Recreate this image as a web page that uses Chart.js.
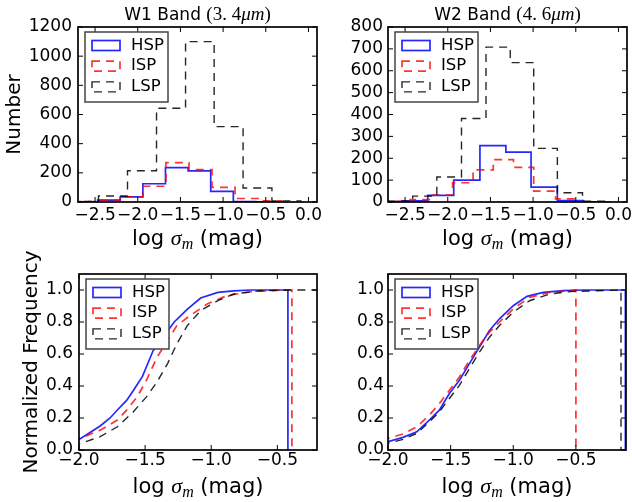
<!DOCTYPE html>
<html>
<head>
<meta charset="utf-8">
<script src="https://cdn.jsdelivr.net/npm/chart.js@4.4.0/dist/chart.umd.min.js"></script>
<style>
  html, body { margin: 0; padding: 0; background: #fff; }
  #wrap { position: relative; width: 632px; height: 502px; overflow: hidden; }
  canvas { position: absolute; left: 0; top: 0; }
</style>
</head>
<body>
<div id="wrap">
  <canvas id="w1hist" width="632" height="502"></canvas>
  <canvas id="w2hist" width="632" height="502"></canvas>
  <canvas id="w1cdf" width="632" height="502"></canvas>
  <canvas id="w2cdf" width="632" height="502"></canvas>
</div>
<script>
// ---- histogram bins (edges) and counts ----
const w1HspEdges = [-2.47, -2.205, -1.94, -1.675, -1.41, -1.145, -0.88, -0.615, -0.35];
const w1HspCounts = [13, 35, 125, 236, 214, 73, 2, 1];
const w1IspEdges = [-2.75, -2.48, -2.21, -1.94, -1.67, -1.40, -1.13, -0.86, -0.59, -0.32];
const w1IspCounts = [3, 12, 36, 108, 270, 222, 100, 24, 8];
const w1LspEdges = [-2.80, -2.46, -2.12, -1.78, -1.44, -1.105, -0.766, -0.428, -0.089];
const w1LspCounts = [4, 41, 214, 643, 1100, 517, 96, 8];

const w2HspEdges = [-2.84, -2.537, -2.234, -1.93, -1.623, -1.319, -1.024, -0.716, -0.409, -0.105];
const w2HspCounts = [2, 5, 30, 100, 258, 228, 68, 6, 1];
const w2IspEdges = [-2.93, -2.69, -2.44, -2.19, -1.943, -1.703, -1.467, -1.23, -0.993, -0.737, -0.5];
const w2IspCounts = [1, 3, 11, 32, 88, 147, 194, 158, 50, 14];
const w2LspEdges = [-2.70, -2.411, -2.128, -1.839, -1.552, -1.268, -0.993, -0.716, -0.421, -0.125];
const w2LspCounts = [4, 27, 114, 382, 708, 637, 245, 42, 4];

// ---- cumulative distributions (x = log sigma, y = fraction) ----
const w1HspCdfX = [-2.05, -1.99, -1.84, -1.765, -1.71, -1.64, -1.59, -1.52, -1.49, -1.44, -1.36, -1.28, -1.18, -1.08, -0.95, -0.83, -0.70, -0.42, -0.42];
const w1HspCdfY = [0.06, 0.07, 0.15, 0.20, 0.25, 0.31, 0.37, 0.46, 0.52, 0.62, 0.71, 0.80, 0.88, 0.95, 0.985, 0.995, 1.0, 1.0, 0];
const w1IspCdfX = [-2.05, -1.99, -1.84, -1.71, -1.64, -1.56, -1.49, -1.41, -1.33, -1.26, -1.16, -1.03, -0.88, -0.70, -0.45, -0.39, -0.39];
const w1IspCdfY = [0.06, 0.073, 0.124, 0.187, 0.249, 0.332, 0.436, 0.58, 0.684, 0.778, 0.84, 0.913, 0.965, 0.99, 1.0, 1.0, 0];
const w1LspCdfX = [-2.05, -1.97, -1.84, -1.71, -1.59, -1.49, -1.41, -1.33, -1.26, -1.18, -1.08, -0.95, -0.83, -0.63, -0.40, -0.10];
const w1LspCdfY = [0.03, 0.046, 0.083, 0.145, 0.238, 0.332, 0.425, 0.54, 0.664, 0.778, 0.871, 0.933, 0.975, 0.995, 1.0, 1.0];

const w2HspCdfX = [-2.05, -2.0, -1.88, -1.77, -1.67, -1.59, -1.51, -1.43, -1.35, -1.27, -1.19, -1.11, -1.0, -0.89, -0.76, -0.60, -0.44, -0.105, -0.105];
const w2HspCdfY = [0.045, 0.052, 0.079, 0.114, 0.187, 0.249, 0.353, 0.436, 0.54, 0.643, 0.747, 0.82, 0.902, 0.96, 0.985, 0.996, 1.0, 1.0, 0];
const w2IspCdfX = [-2.05, -2.0, -1.88, -1.77, -1.67, -1.59, -1.51, -1.43, -1.35, -1.27, -1.19, -1.11, -1.0, -0.87, -0.71, -0.5, -0.5];
const w2IspCdfY = [0.065, 0.073, 0.1, 0.145, 0.218, 0.29, 0.373, 0.456, 0.56, 0.653, 0.736, 0.8, 0.882, 0.954, 0.985, 1.0, 0];
const w2LspCdfX = [-2.05, -2.0, -1.88, -1.77, -1.67, -1.59, -1.51, -1.43, -1.35, -1.27, -1.19, -1.11, -1.0, -0.87, -0.71, -0.55, -0.14, -0.14];
const w2LspCdfY = [0.035, 0.042, 0.066, 0.104, 0.176, 0.238, 0.322, 0.404, 0.508, 0.612, 0.705, 0.778, 0.861, 0.933, 0.975, 0.99, 1.0, 0];

// ---- ticks ----
const histXTicks = [-2.5, -2.0, -1.5, -1.0, -0.5, 0.0];
const w1YTicks = [0, 200, 400, 600, 800, 1000, 1200];
const w2YTicks = [0, 100, 200, 300, 400, 500, 600, 700, 800];
const cdfXTicks = [-2.0, -1.5, -1.0, -0.5];
const cdfYTicks = [0, 0.2, 0.4, 0.6, 0.8, 1.0];
const classes = ['HSP', 'ISP', 'LSP'];

const W = 632, H = 502;
const SANS = '"DejaVu Sans", sans-serif';
const SERIF = '"Liberation Serif", serif';

const styles = {
  HSP: { borderColor: 'rgba(0,0,255,0.85)', borderWidth: 1.7, borderDash: [], order: 2 },
  ISP: { borderColor: 'rgba(255,0,0,0.8)', borderWidth: 1.7, borderDash: [8, 6], order: 1 },
  LSP: { borderColor: 'rgba(0,0,0,0.85)', borderWidth: 1.4, borderDash: [8, 6], order: 0 }
};

function stepPoints(edges, counts) {
  const n = edges.length - 1;
  const pts = [{ x: edges[0], y: 0 }];
  counts.forEach((c, i) => pts.push({ x: edges[i], y: c }));
  pts.push({ x: edges[n], y: counts[counts.length - 1] });
  pts.push({ x: edges[n], y: 0 });
  return pts;
}

function linePoints(xs, ys) {
  return xs.map((x, i) => ({ x: x, y: ys[i] }));
}

function makeSet(name, pts, stepped) {
  return Object.assign({
    label: name, data: pts, stepped: stepped ? 'before' : false,
    pointRadius: 0, fill: false, backgroundColor: 'transparent', tension: 0
  }, styles[name]);
}

function fmt1(v) {
  return (v < 0 ? '\u2212' : '') + Math.abs(v).toFixed(1);
}

// text runs with mixed fonts, centred on cx
function drawRuns(ctx, runs, cx, y) {
  let total = 0;
  runs.forEach(r => { ctx.font = r.font; total += ctx.measureText(r.t).width; });
  let x = cx - total / 2;
  ctx.textAlign = 'left';
  ctx.textBaseline = 'alphabetic';
  runs.forEach(r => {
    ctx.font = r.font;
    ctx.fillText(r.t, x, y + (r.dy || 0));
    x += ctx.measureText(r.t).width;
  });
}

const xLabelRuns = [
  { t: 'log ', font: '21px ' + SANS },
  { t: '\u03c3', font: 'italic 22px ' + SERIF },
  { t: 'm', font: 'italic 16px ' + SERIF, dy: 4 },
  { t: ' (mag)', font: '21px ' + SANS }
];

function titleRuns(band, wl) {
  return [
    { t: band + ' Band ', font: '17px ' + SANS },
    { t: '(' + wl.replace('.', '. '), font: '19px ' + SERIF },
    { t: '\u03bcm', font: 'italic 19px ' + SERIF },
    { t: ')', font: '19px ' + SERIF }
  ];
}

const decor = {
  id: 'decor',
  afterDatasetsDraw(chart, args, o) {
    const ctx = chart.ctx, a = chart.chartArea, sx = chart.scales.x, sy = chart.scales.y;
    ctx.save();
    ctx.setLineDash([]);
    ctx.strokeStyle = '#000';
    ctx.lineWidth = 1;
    ctx.beginPath();
    sx.ticks.forEach(t => {
      const p = sx.getPixelForValue(t.value);
      ctx.moveTo(p, a.bottom); ctx.lineTo(p, a.bottom - 5);
      ctx.moveTo(p, a.top); ctx.lineTo(p, a.top + 5);
    });
    sy.ticks.forEach(t => {
      const p = sy.getPixelForValue(t.value);
      ctx.moveTo(a.left, p); ctx.lineTo(a.left + 5, p);
      ctx.moveTo(a.right, p); ctx.lineTo(a.right - 5, p);
    });
    ctx.stroke();
    ctx.lineWidth = 1.7;
    ctx.strokeRect(a.left, a.top, a.right - a.left, a.bottom - a.top);

    // legend box
    const lx = a.left + 7, ly = a.top + 5;
    ctx.fillStyle = '#fff';
    ctx.fillRect(lx, ly, 83, 70);
    ctx.strokeStyle = '#444';
    ctx.lineWidth = 1.5;
    ctx.strokeRect(lx, ly, 83, 70);
    chart.data.datasets.forEach((ds, i) => {
      const cy = ly + 13.5 + i * 20.7;
      ctx.setLineDash(ds.borderDash);
      ctx.strokeStyle = ds.borderColor;
      ctx.lineWidth = ds.borderWidth;
      ctx.strokeRect(lx + 7, cy - 5, 28, 10);
      ctx.setLineDash([]);
      ctx.fillStyle = '#000';
      ctx.font = '16.5px ' + SANS;
      ctx.textAlign = 'left';
      ctx.textBaseline = 'middle';
      ctx.fillText(ds.label, lx + 46, cy);
    });
    ctx.restore();
  },
  afterDraw(chart, args, o) {
    const ctx = chart.ctx, a = chart.chartArea;
    const cx = (a.left + a.right) / 2;
    ctx.save();
    ctx.fillStyle = '#000';
    if (o.title) drawRuns(ctx, o.title, cx, o.titleY);
    drawRuns(ctx, xLabelRuns, cx, o.xlabelY);
    if (o.ylabel) {
      ctx.translate(o.ylabelX, (a.top + a.bottom) / 2);
      ctx.rotate(-Math.PI / 2);
      ctx.font = '20px ' + SANS;
      ctx.textAlign = 'center';
      ctx.textBaseline = 'alphabetic';
      ctx.fillText(o.ylabel, 0, 0);
    }
    ctx.restore();
  }
};

function makePanel(id, p) {
  const YW = 50, XH = 30;
  return new Chart(document.getElementById(id), {
    type: 'line',
    data: { datasets: p.datasets },
    plugins: [decor],
    options: {
      responsive: false,
      animation: false,
      devicePixelRatio: 1,
      layout: { padding: { left: p.area.l - YW, top: p.area.t, right: W - p.area.r, bottom: H - p.area.b - XH } },
      plugins: {
        legend: { display: false },
        tooltip: { enabled: false },
        decor: p.text
      },
      scales: {
        x: {
          type: 'linear', min: p.x[0], max: p.x[1],
          afterBuildTicks: s => { s.ticks = p.xTicks.map(v => ({ value: v })); },
          afterFit: s => { s.height = XH; s.paddingLeft = 0; s.paddingRight = 0; },
          grid: { display: false, drawTicks: false },
          border: { display: false },
          ticks: { padding: p.xPad, color: '#000', maxRotation: 0, autoSkip: false,
                   font: { family: SANS, size: 17 }, callback: v => fmt1(v) }
        },
        y: {
          type: 'linear', min: p.y[0], max: p.y[1],
          afterBuildTicks: s => { s.ticks = p.yTicks.map(v => ({ value: v })); },
          afterFit: s => { s.width = YW; s.paddingTop = 0; s.paddingBottom = 0; },
          grid: { display: false, drawTicks: false },
          border: { display: false },
          ticks: { padding: p.yPad, color: '#000', autoSkip: false,
                   font: { family: SANS, size: 17 }, callback: p.yFmt }
        }
      }
    }
  });
}

makePanel('w1hist', {
  area: { l: 78, t: 27, r: 317, b: 202 },
  x: [-2.7, 0.1], xTicks: histXTicks, y: [0, 1200], yTicks: w1YTicks,
  xPad: 3, yPad: 6, yFmt: v => String(v),
  datasets: [
    makeSet('HSP', stepPoints(w1HspEdges, w1HspCounts), true),
    makeSet('ISP', stepPoints(w1IspEdges, w1IspCounts), true),
    makeSet('LSP', stepPoints(w1LspEdges, w1LspCounts), true)
  ],
  text: { title: titleRuns('W1', '3.4'), titleY: 20, xlabelY: 245, ylabel: 'Number', ylabelX: 20 }
});

makePanel('w2hist', {
  area: { l: 388, t: 27, r: 627, b: 202 },
  x: [-2.7, 0.1], xTicks: histXTicks, y: [0, 800], yTicks: w2YTicks,
  xPad: 3, yPad: 5, yFmt: v => String(v),
  datasets: [
    makeSet('HSP', stepPoints(w2HspEdges, w2HspCounts), true),
    makeSet('ISP', stepPoints(w2IspEdges, w2IspCounts), true),
    makeSet('LSP', stepPoints(w2LspEdges, w2LspCounts), true)
  ],
  text: { title: titleRuns('W2', '4.6'), titleY: 20, xlabelY: 245 }
});

makePanel('w1cdf', {
  area: { l: 79, t: 274, r: 317, b: 450 },
  x: [-2.0, -0.2], xTicks: cdfXTicks, y: [0, 1.1], yTicks: cdfYTicks,
  xPad: 0, yPad: 6, yFmt: v => v.toFixed(1),
  datasets: [
    makeSet('HSP', linePoints(w1HspCdfX, w1HspCdfY), false),
    makeSet('ISP', linePoints(w1IspCdfX, w1IspCdfY), false),
    makeSet('LSP', linePoints(w1LspCdfX, w1LspCdfY), false)
  ],
  text: { xlabelY: 493, ylabel: 'Normalized Frequency', ylabelX: 37 }
});

makePanel('w2cdf', {
  area: { l: 388, t: 274, r: 626, b: 450 },
  x: [-2.0, -0.1], xTicks: cdfXTicks, y: [0, 1.1], yTicks: cdfYTicks,
  xPad: 0, yPad: 4, yFmt: v => v.toFixed(1),
  datasets: [
    makeSet('HSP', linePoints(w2HspCdfX, w2HspCdfY), false),
    makeSet('ISP', linePoints(w2IspCdfX, w2IspCdfY), false),
    makeSet('LSP', linePoints(w2LspCdfX, w2LspCdfY), false)
  ],
  text: { xlabelY: 493 }
});
</script>
</body>
</html>
